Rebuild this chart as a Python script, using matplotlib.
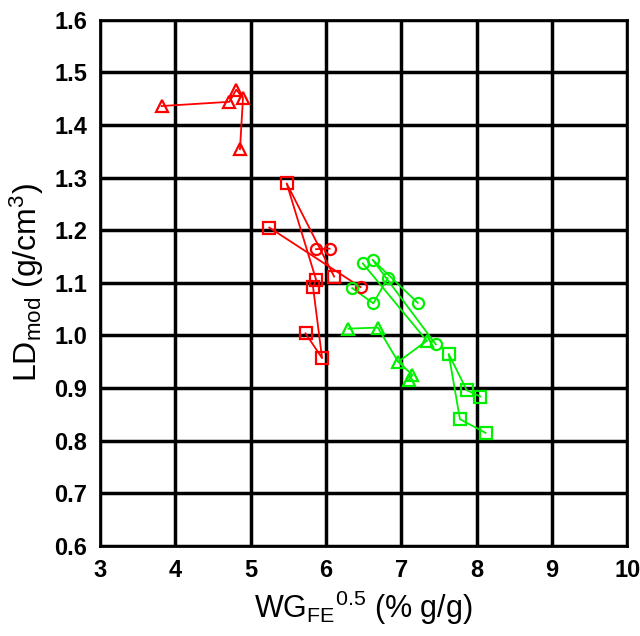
import matplotlib
matplotlib.use('Agg')
import matplotlib.pyplot as plt

plt.rcParams['font.family'] = ['Liberation Sans', 'DejaVu Sans']
plt.rcParams['mathtext.fontset'] = 'custom'
plt.rcParams['mathtext.rm'] = 'Liberation Sans'
plt.rcParams['mathtext.it'] = 'Liberation Sans'

# red group: points with shape kind, then paths as index lists
red_x = [3.82, 4.72, 4.81, 4.90, 4.86,
         5.48, 5.25, 5.87, 5.83, 6.11, 5.73, 5.95,
         5.87, 6.05, 6.46]
red_y = [1.436, 1.444, 1.467, 1.451, 1.354,
         1.289, 1.205, 1.106, 1.092, 1.112, 1.004, 0.957,
         1.164, 1.165, 1.092]
red_kind = ['tri'] * 5 + ['sq'] * 7 + ['ci'] * 3
red_paths = [[0, 1, 2, 3, 4],
             [10, 11, 8, 7, 5, 9],
             [12, 13],
             [6, 14]]

green_x = [6.49, 6.62, 6.82, 6.35, 6.63, 7.22, 7.46,
           6.30, 6.69, 6.96, 7.34, 7.15, 7.10,
           7.63, 7.87, 8.05, 7.78, 8.12]
green_y = [1.137, 1.144, 1.109, 1.090, 1.061, 1.062, 0.983,
           1.013, 1.015, 0.950, 0.990, 0.925, 0.915,
           0.965, 0.896, 0.884, 0.841, 0.815]
green_kind = ['ci'] * 7 + ['tri'] * 6 + ['sq'] * 5
green_paths = [[3, 4, 2],
               [0, 10],
               [5, 1, 6],
               [7, 8, 9, 10],
               [9, 11, 12],
               [17, 16, 13, 14, 15]]

shape = {'tri': '^', 'sq': 's', 'ci': 'o'}

fig = plt.figure(figsize=(6.4, 6.36), dpi=100)
ax = fig.add_axes([0.156, 0.1415, 0.824, 0.8275])

for xs, ys, kinds, paths, col in [(red_x, red_y, red_kind, red_paths, '#ff0000'),
                                  (green_x, green_y, green_kind, green_paths, '#00f000')]:
    for p in paths:
        ax.plot([xs[i] for i in p], [ys[i] for i in p], color=col, lw=1.3, zorder=3)
    for k in ['tri', 'sq', 'ci']:
        idx = [i for i in range(len(xs)) if kinds[i] == k]
        ax.plot([xs[i] for i in idx], [ys[i] for i in idx], ls='none',
                marker=shape[k], ms=8, mfc='none', mec=col, mew=1.6, zorder=4)

ax.set_xlim(3, 10)
ax.set_ylim(0.6, 1.6)
ax.set_xticks(range(3, 11))
ax.set_yticks([0.6 + 0.1 * i for i in range(11)])
ax.set_yticklabels(['%.1f' % (0.6 + 0.1 * i) for i in range(11)])
ax.grid(True, color='black', lw=2.5, zorder=1)
ax.set_axisbelow(True)
for s in ax.spines.values():
    s.set_linewidth(2.0)
ax.tick_params(length=0, pad=9, labelsize=17)
for lab in ax.get_xticklabels() + ax.get_yticklabels():
    lab.set_fontweight('bold')

ax.set_xlabel(r'WG$_{\rm FE}$$^{0.5}$ (% g/g)', fontsize=22, labelpad=5)
ax.set_ylabel(r'LD$_{\rm mod}$ (g/cm$^3$)', fontsize=23, labelpad=6)

fig.savefig('out.png', dpi=100)
